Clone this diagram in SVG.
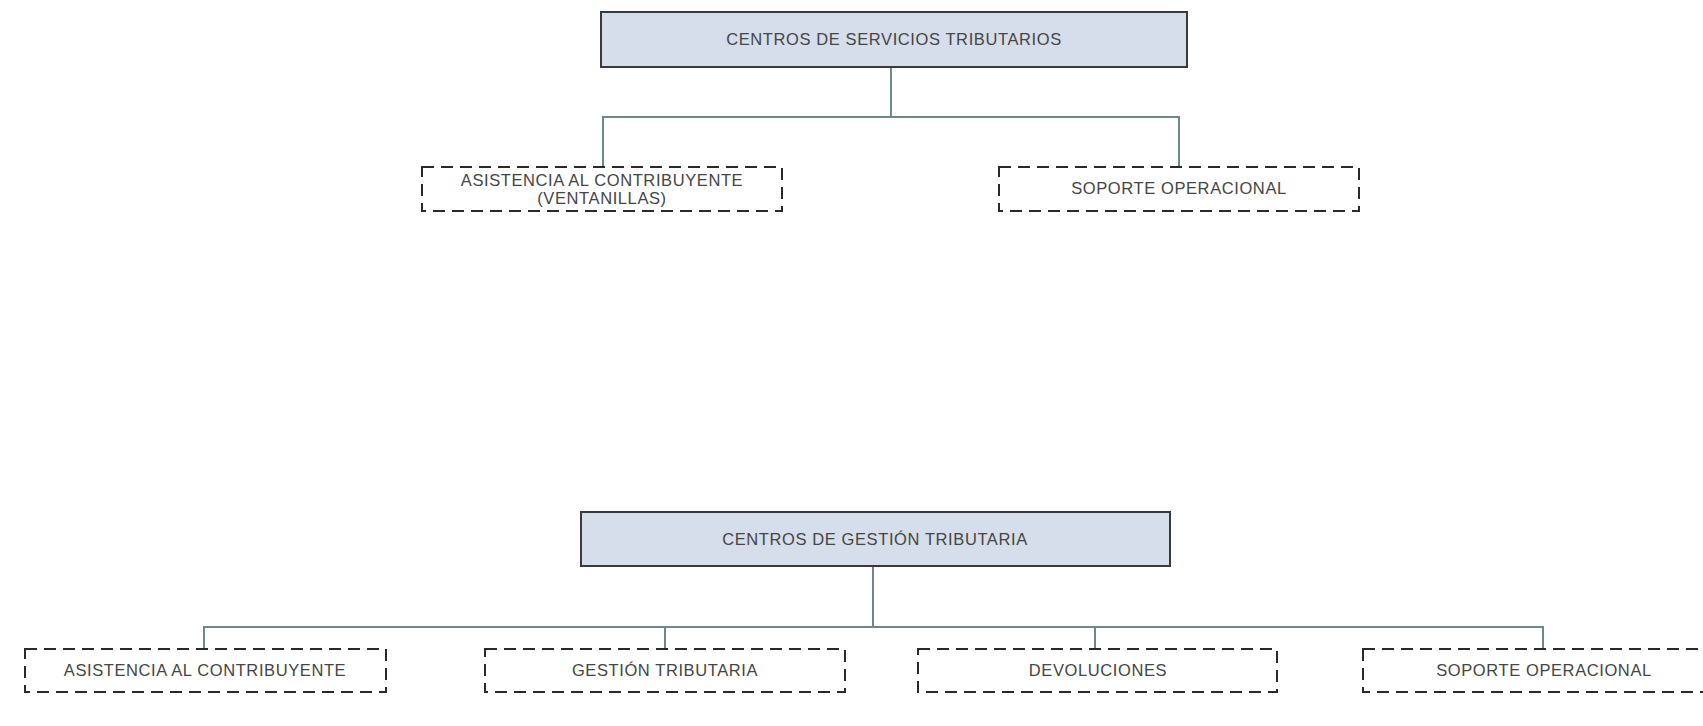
<svg xmlns="http://www.w3.org/2000/svg" width="1703" height="726" viewBox="0 0 1703 726">
<style>
.head{fill:#d5deea;stroke:#3a3a3a;stroke-width:2}
.unit{fill:#ffffff;stroke:#2a2a2a;stroke-width:2;stroke-dasharray:12 7}
.t{font-family:"Liberation Sans",Arial,sans-serif;font-size:16.5px;letter-spacing:0.6px;fill:#454545;text-anchor:middle;dominant-baseline:central}
.c{fill:none;stroke:#6f8789;stroke-width:2}
</style>
<rect width="1703" height="726" fill="#ffffff"/>
<g id="connectors">
<path class="c" d="M891 67V117M603 167V117H1179V167"/>
<path class="c" d="M873 566V627M204 649V627H1543V649M665 627V649M1095 627V649"/>
</g>
<g id="n-cst">
<rect class="head" x="601" y="12" width="586" height="55"/>
<text class="t" x="894" y="39">CENTROS DE SERVICIOS TRIBUTARIOS</text>
</g>
<g id="n-cst-asistencia">
<rect class="unit" x="422" y="167" width="360" height="44"/>
<text class="t" x="602" y="180">ASISTENCIA AL CONTRIBUYENTE</text>
<text class="t" x="602" y="198">(VENTANILLAS)</text>
</g>
<g id="n-cst-soporte">
<rect class="unit" x="999" y="167" width="360" height="44"/>
<text class="t" x="1179" y="188">SOPORTE OPERACIONAL</text>
</g>
<g id="n-cgt">
<rect class="head" x="581" y="512" width="589" height="54"/>
<text class="t" x="875" y="539">CENTROS DE GESTIÓN TRIBUTARIA</text>
</g>
<g id="n-cgt-asistencia">
<rect class="unit" x="25" y="649" width="361" height="43"/>
<text class="t" x="205" y="670">ASISTENCIA AL CONTRIBUYENTE</text>
</g>
<g id="n-cgt-gestion">
<rect class="unit" x="485" y="649" width="360" height="43"/>
<text class="t" x="665" y="670">GESTIÓN TRIBUTARIA</text>
</g>
<g id="n-cgt-devoluciones">
<rect class="unit" x="918" y="649" width="359" height="43"/>
<text class="t" x="1098" y="670">DEVOLUCIONES</text>
</g>
<g id="n-cgt-soporte">
<rect class="unit" x="1363" y="649" width="362" height="43"/>
<text class="t" x="1544" y="670">SOPORTE OPERACIONAL</text>
</g>
</svg>
